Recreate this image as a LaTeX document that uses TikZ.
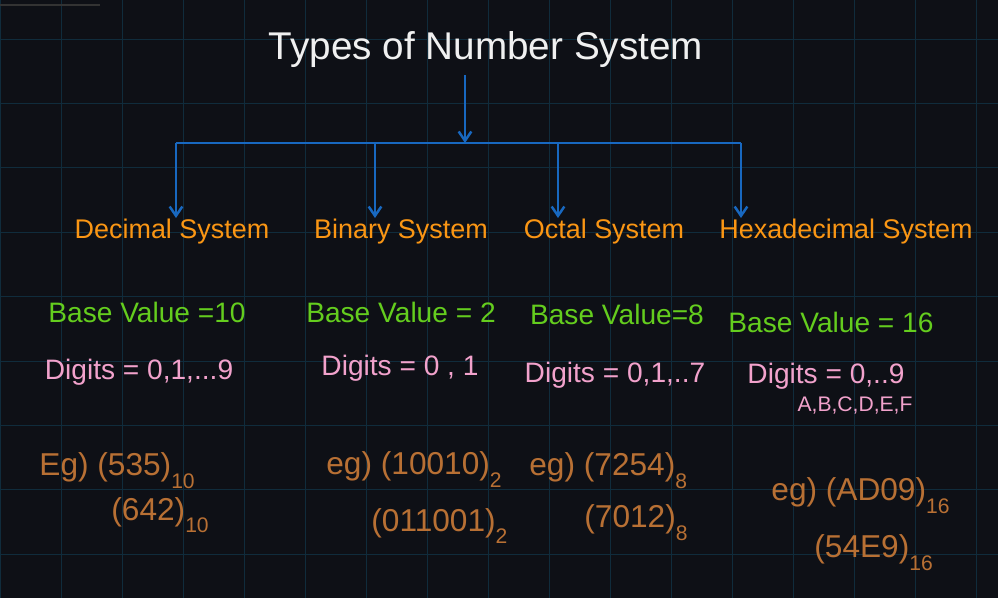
\documentclass[tikz,border=0pt]{standalone}
\usepackage{fontspec}
\setmainfont{Liberation Sans}
\usetikzlibrary{arrows.meta,positioning}
\definecolor{boardbg}{RGB}{14,16,22}
\definecolor{gridc}{RGB}{16,44,60}
\definecolor{linkc}{RGB}{24,104,192}
\definecolor{headc}{RGB}{250,150,20}
\definecolor{basec}{RGB}{100,205,30}
\definecolor{digc}{RGB}{242,162,204}
\definecolor{egc}{RGB}{184,112,52}
\newcommand{\basesub}[1]{\raisebox{-0.38em}{\fontsize{18}{20}\selectfont#1}}
\begin{document}
\begin{tikzpicture}[
  x=0.03cm, y=-0.03cm,
  >={Straight Barb[length=2.8mm,width=3.8mm]},
  every node/.style={inner sep=1pt},
  gridline/.style={draw=gridc, line width=0.8pt},
  link/.style={draw=linkc, line width=2.1pt},
  head/.style={text=headc, font=\fontsize{23}{27}\selectfont},
  base/.style={text=basec, font=\fontsize{24}{28}\selectfont},
  digs/.style={text=digc, font=\fontsize{24}{28}\selectfont},
  eg/.style={text=egc, font=\fontsize{27}{32}\selectfont, anchor=base west}
]
  \useasboundingbox (0,0) rectangle (998,598);
  \fill[boardbg] (0,0) rectangle (998,598);
  % the board
  \foreach \gx in {0,...,16} \draw[gridline] ({61*\gx},0) -- ({61*\gx},598);
  \foreach \gy in {0,...,8} \draw[gridline] (0,{39+64.4*\gy}) -- (998,{39+64.4*\gy});
  \draw[gray!40!black, line width=1.2pt] (0,5) -- (100,5);

  \node[text=white!94!black, font=\fontsize{33}{39}\selectfont] (title) at (486,50)
    {Types of Number System};
  \node[head] (dec) at (172,232) {Decimal System};
  \node[head] (bin) at (401,232) {Binary System};
  \node[head] (oct) at (604,232) {Octal System};
  \node[head] (hex) at (846,232) {Hexadecimal System};

  \coordinate (jt) at (465,143);
  \coordinate (jd) at (176,143);
  \coordinate (jb) at (375,143);
  \coordinate (jo) at (558,143);
  \coordinate (jh) at (741,143);
  \draw[link, ->, shorten <=5pt] (title.south -| jt) -- (jt);
  \draw[link] (jd) -- (jh);
  \draw[link, ->] (jd) -- (jd |- dec.north);
  \draw[link, ->] (jb) -- (jb |- bin.north);
  \draw[link, ->] (jo) -- (jo |- oct.north);
  \draw[link, ->] (jh) -- (jh |- hex.north);

  \node[base] (bdec) at (147,312) {Base Value =10};
  \node[base] (bbin) at (401,312) {Base Value = 2};
  \node[base] (boct) at (617,314) {Base Value=8};
  \node[base] (bhex) at (831,322) {Base Value = 16};

  \node[digs] (ddec) at (139,372) {Digits = 0,1,...9};
  \node[digs] (dbin) at (400,368) {Digits = 0 , 1};
  \node[digs] (doct) at (615,375) {Digits = 0,1,..7};
  \node[digs] (dhex) at (826,376) {Digits = 0,..9};
  \node[digs, font=\fontsize{18}{21}\selectfont] (lhex) at (855,405) {A,B,C,D,E,F};

  % examples, two per system
  \node[eg] (edec) at (38,476) {Eg) (535)\basesub{10}};
  \node[eg] (edec2) at (110,520) {(642)\basesub{10}};
  \node[eg] (ebin) at (325,475) {eg) (10010)\basesub{2}};
  \node[eg] (ebin2) at (370,531) {(011001)\basesub{2}};
  \node[eg] (eoct) at (528,476) {eg) (7254)\basesub{8}};
  \node[eg] (eoct2) at (583,528) {(7012)\basesub{8}};
  \node[eg] (ehex) at (770,501) {eg) (AD09)\basesub{16}};
  \node[eg] (ehex2) at (813,558) {(54E9)\basesub{16}};
\end{tikzpicture}
\end{document}
